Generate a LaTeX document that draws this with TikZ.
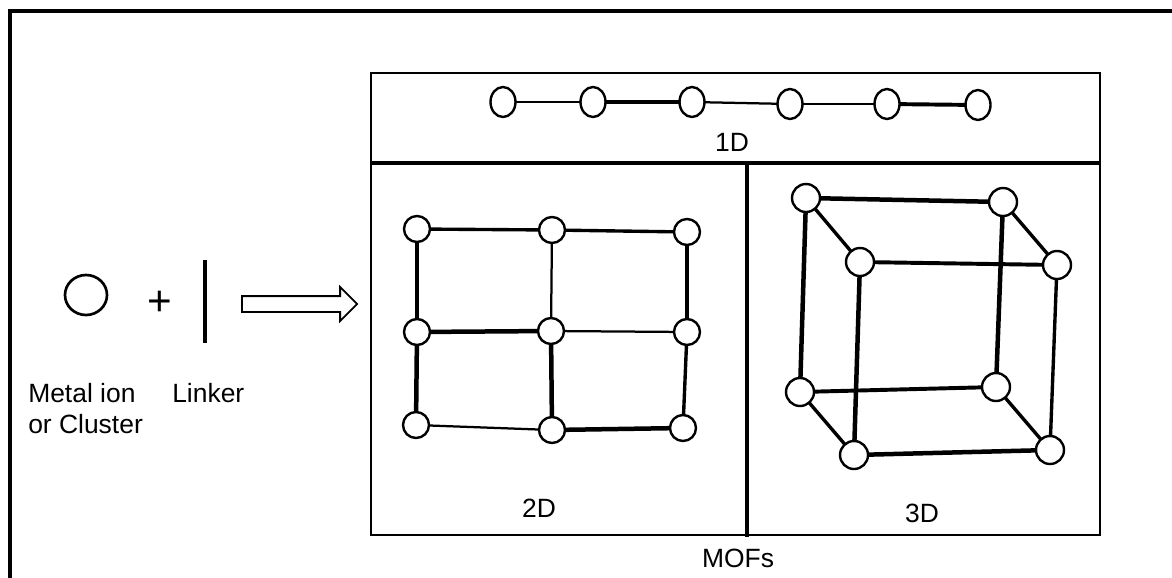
\documentclass[tikz,border=0pt]{standalone}
\usepackage{fontspec}
\setmainfont{Liberation Sans}
\usetikzlibrary{backgrounds,shapes,shapes.arrows}
\pgfdeclarelayer{edgelayer}
\pgfdeclarelayer{nodelayer}
\pgfsetlayers{edgelayer,nodelayer,main}
\tikzset{font=\fontsize{18.8}{22}\selectfont}
\tikzstyle{none}=[inner sep=0pt]
\tikzstyle{site}=[circle,fill=white,draw,line width=1.7pt,inner sep=0pt,minimum size=0.65cm]
\tikzstyle{bigsite}=[site,minimum size=0.7cm]
\tikzstyle{chainsite}=[ellipse,fill=white,draw,line width=1.7pt,inner sep=0pt,minimum width=0.625cm,minimum height=0.75cm]
\tikzstyle{metal}=[ellipse,fill=white,draw,line width=1.9pt,inner sep=0pt,minimum width=1.05cm,minimum height=1cm]
\tikzstyle{hollowarrow}=[single arrow,draw,fill=white,line width=1.3pt,inner sep=0.175cm,single arrow head extend=0.225cm,single arrow tip angle=90,minimum height=2.875cm]

\begin{document}
\begin{tikzpicture}
	\useasboundingbox (0,0) rectangle (29.3,-14.425);
	\begin{pgfonlayer}{nodelayer}
		\node [style=chainsite] (0) at (12.575, -2.55) {};
		\node [style=chainsite] (1) at (14.825, -2.55) {};
		\node [style=chainsite] (2) at (17.3, -2.55) {};
		\node [style=chainsite] (3) at (19.75, -2.6) {};
		\node [style=chainsite] (4) at (22.175, -2.6) {};
		\node [style=chainsite] (5) at (24.45, -2.625) {};
		\node [style=site] (6) at (10.425, -5.725) {};
		\node [style=site] (7) at (13.8, -5.75) {};
		\node [style=site] (8) at (17.175, -5.8) {};
		\node [style=site] (9) at (10.425, -8.3) {};
		\node [style=site] (10) at (13.775, -8.275) {};
		\node [style=site] (11) at (17.175, -8.3) {};
		\node [style=site] (12) at (10.4, -10.625) {};
		\node [style=site] (13) at (13.8, -10.75) {};
		\node [style=site] (14) at (17.075, -10.7) {};
		\node [style=bigsite] (15) at (20.15, -4.95) {};
		\node [style=bigsite] (16) at (25.075, -5.05) {};
		\node [style=bigsite] (17) at (21.5, -6.55) {};
		\node [style=bigsite] (18) at (26.425, -6.625) {};
		\node [style=bigsite] (19) at (20, -9.8) {};
		\node [style=bigsite] (20) at (24.9, -9.675) {};
		\node [style=bigsite] (21) at (21.35, -11.375) {};
		\node [style=bigsite] (22) at (26.25, -11.25) {};
		\node [style=metal] (23) at (2.15, -7.375) {};
		\node [style=none, font=\fontsize{30}{30}\selectfont] (24) at (4, -7.575) {+};
		\node [style=none] (25) at (5.125, -6.5) {};
		\node [style=none] (26) at (5.125, -8.575) {};
		\node [style=hollowarrow] (27) at (7.39, -7.6) {};
		\node [style=none, anchor=base west, align=left] (28) at (0.7, -10.825) {Metal ion\\or Cluster};
		\node [style=none, anchor=base west] (29) at (4.3, -10.05) {Linker};
		\node [style=none, anchor=base] (30) at (18.3, -3.775) {1D};
		\node [style=none, anchor=base] (31) at (13.475, -12.925) {2D};
		\node [style=none, anchor=base] (32) at (23.05, -13.05) {3D};
		\node [style=none, anchor=base] (33) at (18.45, -14.175) {MOFs};
	\end{pgfonlayer}
	\begin{pgfonlayer}{edgelayer}
		\draw[line width=1.6pt] (0.center) to (1.center);
		\draw[line width=3.2pt] (1.center) to (2.center);
		\draw[line width=1.6pt] (2.center) to (3.center);
		\draw[line width=1.6pt] (3.center) to (4.center);
		\draw[line width=2.8pt] (4.center) to (5.center);
		\draw[line width=2.4pt] (6.center) to (7.center);
		\draw[line width=2.4pt] (7.center) to (8.center);
		\draw[line width=3.2pt] (6.center) to (9.center);
		\draw[line width=3.2pt] (9.center) to (12.center);
		\draw[line width=1.6pt] (7.center) to (10.center);
		\draw[line width=3.2pt] (10.center) to (13.center);
		\draw[line width=2.4pt] (8.center) to (11.center);
		\draw[line width=2.4pt] (11.center) to (14.center);
		\draw[line width=3.2pt] (9.center) to (10.center);
		\draw[line width=1.6pt] (10.center) to (11.center);
		\draw[line width=1.6pt] (12.center) to (13.center);
		\draw[line width=3.2pt] (13.center) to (14.center);
		\draw[line width=3.2pt] (15.center) to (16.center);
		\draw[line width=2.4pt] (15.center) to (17.center);
		\draw[line width=3.2pt] (15.center) to (19.center);
		\draw[line width=2.4pt] (16.center) to (18.center);
		\draw[line width=3.2pt] (16.center) to (20.center);
		\draw[line width=2.8pt] (17.center) to (18.center);
		\draw[line width=3.2pt] (17.center) to (21.center);
		\draw[line width=2.4pt] (18.center) to (22.center);
		\draw[line width=2.8pt] (19.center) to (20.center);
		\draw[line width=2.4pt] (19.center) to (21.center);
		\draw[line width=2.4pt] (20.center) to (22.center);
		\draw[line width=3.2pt] (21.center) to (22.center);
		\draw[line width=3.4pt] (25.center) to (26.center);
	\end{pgfonlayer}
	% outer frame, 1D/2D/3D panels
	\draw[line width=2.8pt] (29.6, -0.275) -- (0.25, -0.275) -- (0.25, -14.7);
	\draw[line width=2pt] (9.275, -1.825) rectangle (27.5, -13.375);
	\draw[line width=2.4pt] (9.275, -4.075) -- (27.5, -4.075);
	\draw[line width=2.4pt] (18.675, -4.075) -- (18.675, -13.425);
\end{tikzpicture}
\end{document}
